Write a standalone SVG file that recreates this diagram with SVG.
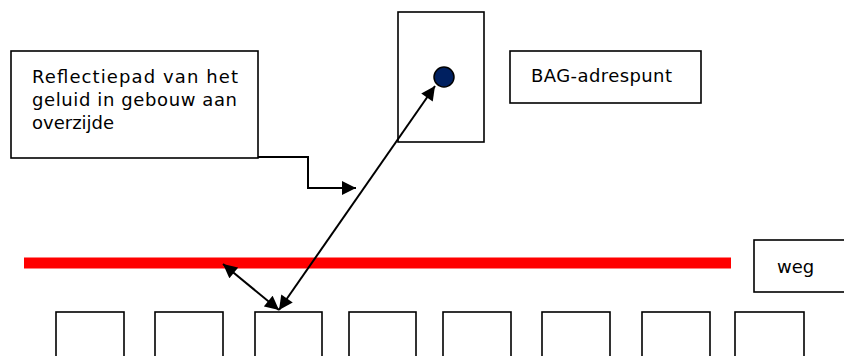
<svg xmlns="http://www.w3.org/2000/svg" width="844" height="356" viewBox="0 0 844 356">
<style>
.box{fill:#fff;stroke:#000;stroke-width:1.6}
.lbl{font-family:"DejaVu Sans",Verdana,sans-serif;font-size:18px;fill:#000}
.con{fill:none;stroke:#000;stroke-width:2}
</style>
<defs>
<marker id="ah" viewBox="0 0 10 10" refX="10" refY="5" markerWidth="7.5" markerHeight="7" markerUnits="strokeWidth" orient="auto-start-reverse">
<path d="M0,0 L10,5 L0,10 z" fill="#000"/>
</marker>
</defs>
<rect width="844" height="356" fill="#fff"/>
<g id="road"><line x1="24" y1="263" x2="731" y2="263" stroke="#ff0000" stroke-width="11"/></g>
<g id="building-top"><rect class="box" x="398" y="12" width="86" height="130"/></g>
<g id="adrespunt"><circle cx="444" cy="77" r="10" fill="#002060" stroke="#000" stroke-width="1.5"/></g>
<g id="label-reflectie">
<rect class="box" x="11" y="51" width="247" height="107"/>
<text class="lbl" x="32" y="83" textLength="206" lengthAdjust="spacing">Reflectiepad van het</text>
<text class="lbl" x="32" y="106" textLength="205" lengthAdjust="spacing">geluid in gebouw aan</text>
<text class="lbl" x="32" y="129">overzijde</text>
</g>
<g id="label-bag">
<rect class="box" x="510" y="51" width="191" height="52"/>
<text class="lbl" x="531" y="82" textLength="141" lengthAdjust="spacing">BAG-adrespunt</text>
</g>
<g id="label-weg">
<rect class="box" x="754" y="240" width="100" height="52"/>
<text class="lbl" x="777" y="273">weg</text>
</g>
<g id="buildings-bottom">
<rect class="box" x="56" y="312" width="68" height="60"/>
<rect class="box" x="155" y="312" width="68" height="60"/>
<rect class="box" x="255" y="312" width="67" height="60"/>
<rect class="box" x="349" y="312" width="67" height="60"/>
<rect class="box" x="443" y="312" width="68" height="60"/>
<rect class="box" x="542" y="312" width="68" height="60"/>
<rect class="box" x="642" y="312" width="68" height="60"/>
<rect class="box" x="735" y="312" width="69" height="60"/>
</g>
<g id="connectors">
<line class="con" x1="279" y1="310" x2="435" y2="86" marker-start="url(#ah)" marker-end="url(#ah)"/>
<line class="con" x1="279" y1="310" x2="223" y2="264" marker-start="url(#ah)" marker-end="url(#ah)"/>
<polyline class="con" points="258,157 308,157 308,188 356,188" marker-end="url(#ah)"/>
</g>
</svg>
